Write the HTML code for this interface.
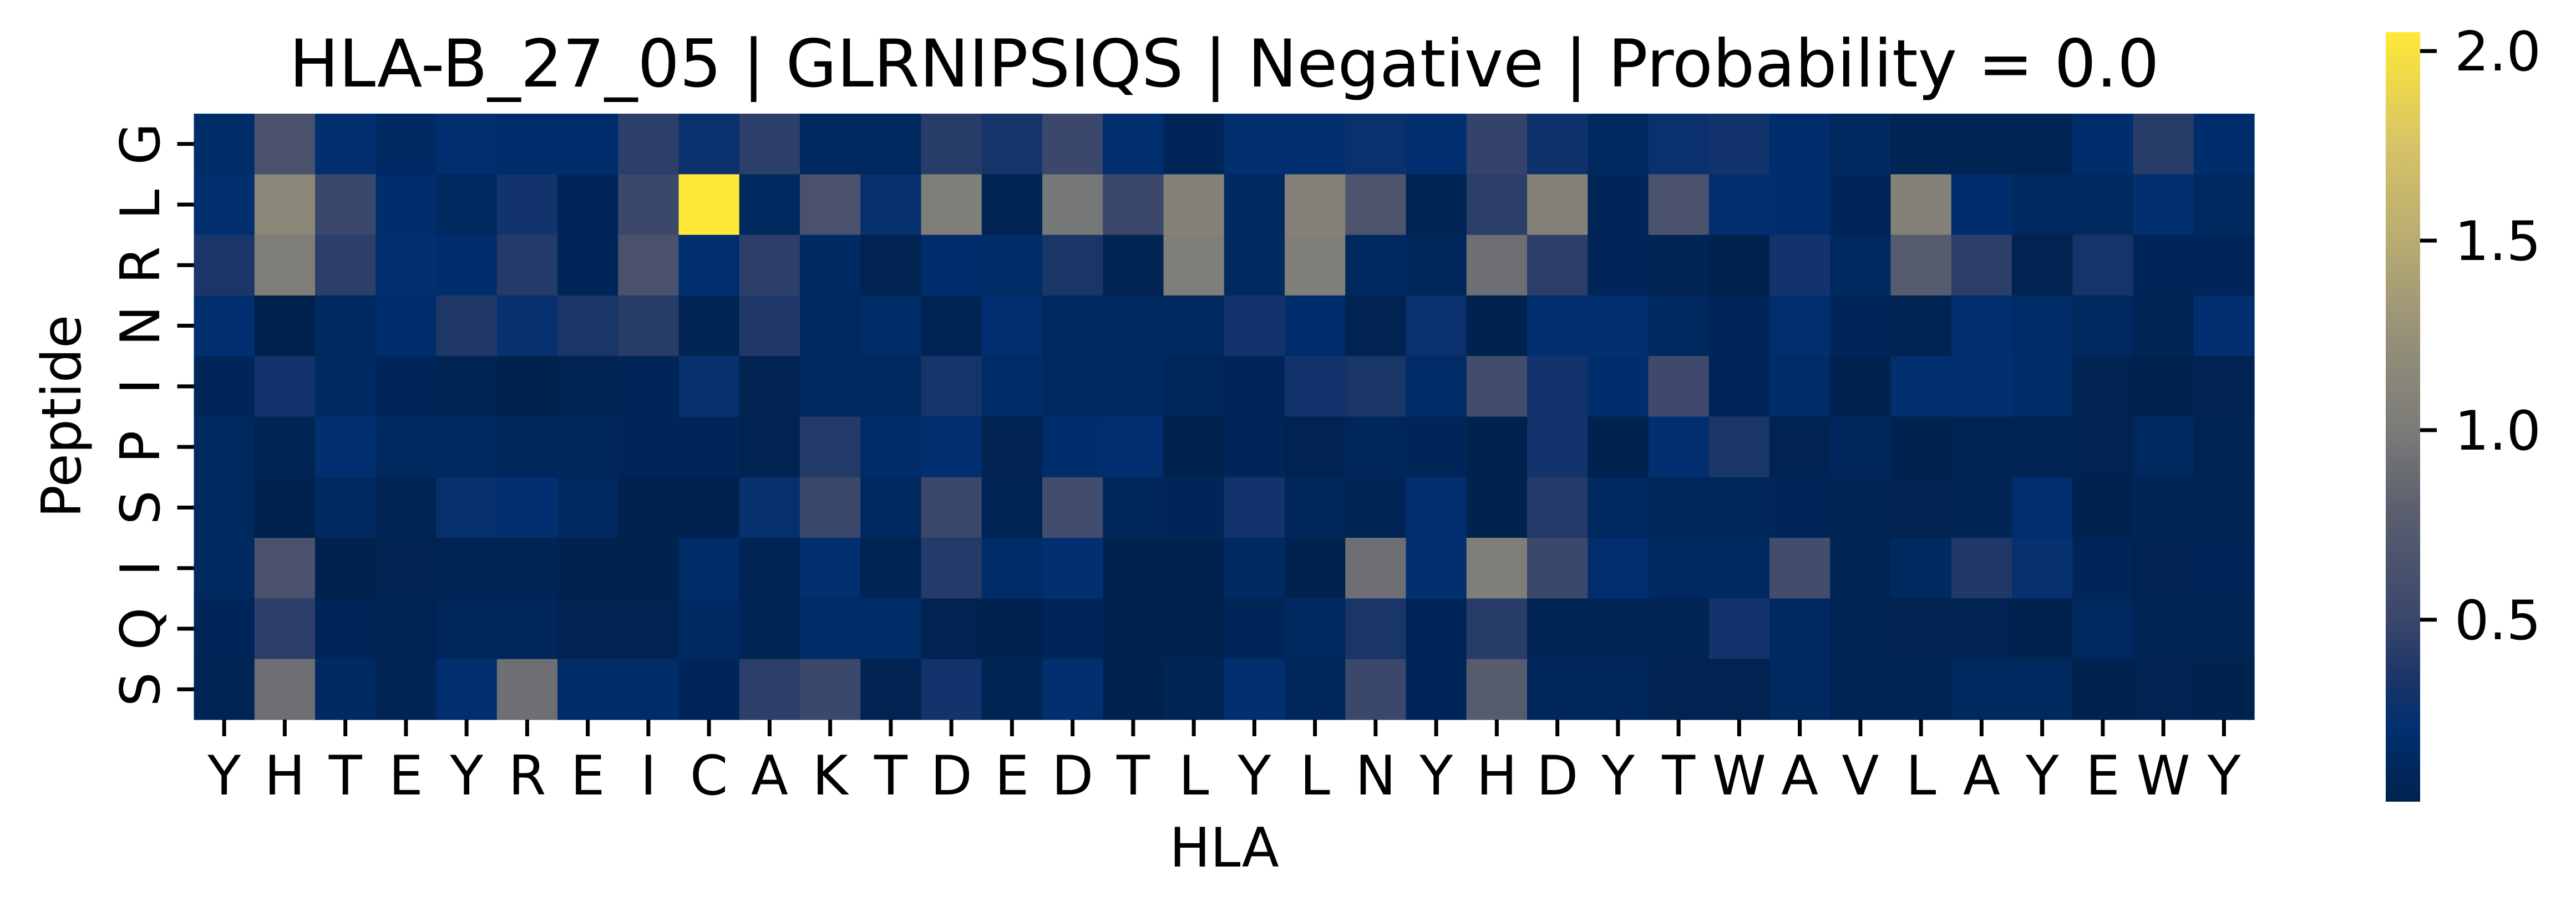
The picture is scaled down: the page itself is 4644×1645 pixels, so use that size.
<!DOCTYPE html>
<html><head><meta charset="utf-8">
<style>
html,body{margin:0;padding:0;background:#fff;}
svg{display:block;}
text{font-family:"DejaVu Sans","Liberation Sans",sans-serif;fill:#000;}
</style></head>
<body>
<svg id="chart" width="4644" height="1645" viewBox="0 0 4644 1645" xmlns="http://www.w3.org/2000/svg">
<defs>
<linearGradient id="cbgrad" x1="0" y1="1" x2="0" y2="0">
<stop offset="0" stop-color="#00224e"/><stop offset="0.094" stop-color="#002f70"/><stop offset="0.16" stop-color="#1b3568"/><stop offset="0.24" stop-color="#3b476b"/><stop offset="0.38" stop-color="#5b5f6e"/><stop offset="0.48" stop-color="#7a7a78"/><stop offset="0.6" stop-color="#958f78"/><stop offset="0.73" stop-color="#b8ac72"/><stop offset="0.85" stop-color="#d6c266"/><stop offset="1" stop-color="#fee838"/>
</linearGradient>
</defs>
<text x="2207" y="156" font-size="119" text-anchor="middle">HLA-B_27_05 | GLRNIPSIQS | Negative | Probability = 0.0</text>
<g id="cells"></g>
<g id="axes"></g>
<rect x="4301" y="58" width="62" height="1388" fill="url(#cbgrad)"/>
<g id="cbticks"></g>
<text x="2207" y="1563" font-size="98" text-anchor="middle">HLA</text>
<text x="145" y="751" font-size="98" text-anchor="middle" transform="rotate(-90 145 751)">Peptide</text>
</svg>
<script>
const hlaLabels = ["Y","H","T","E","Y","R","E","I","C","A","K","T","D","E","D","T","L","Y","L","N","Y","H","D","Y","T","W","A","V","L","A","Y","E","W","Y"];
const peptideLabels = ["G","L","R","N","I","P","S","I","Q","S"];
const values = [
[.16,.63,.22,.14,.20,.18,.18,.43,.26,.43,.12,.12,.41,.32,.51,.20,.08,.22,.22,.26,.22,.47,.28,.12,.26,.30,.18,.12,.06,.06,.06,.18,.41,.18],
[.22,1.14,.51,.18,.12,.30,.08,.51,2.05,.12,.63,.24,1.04,.06,.97,.51,1.08,.12,1.08,.67,.06,.43,1.08,.08,.65,.22,.18,.08,1.08,.18,.12,.12,.22,.12],
[.34,1.04,.43,.22,.18,.39,.08,.63,.20,.43,.14,.04,.18,.16,.34,.06,1.04,.12,1.04,.12,.10,.91,.43,.08,.06,.02,.30,.12,.75,.43,.04,.32,.08,.08],
[.22,.02,.12,.18,.37,.24,.34,.41,.06,.37,.12,.16,.06,.20,.12,.12,.12,.30,.18,.04,.26,.02,.22,.22,.12,.08,.20,.08,.06,.20,.16,.12,.06,.22],
[.08,.30,.14,.08,.06,.02,.06,.08,.24,.04,.12,.12,.32,.16,.12,.12,.10,.08,.30,.34,.16,.57,.30,.18,.53,.08,.16,.02,.22,.22,.16,.04,.02,.04],
[.12,.06,.22,.12,.12,.10,.10,.08,.08,.04,.39,.16,.20,.04,.18,.20,.02,.08,.04,.10,.08,.02,.30,.02,.22,.34,.04,.10,.02,.06,.06,.04,.12,.06],
[.12,.02,.12,.06,.24,.22,.12,.02,.02,.24,.51,.12,.51,.06,.57,.10,.08,.30,.10,.06,.20,.02,.39,.12,.10,.10,.08,.06,.04,.06,.20,.02,.06,.06],
[.12,.63,.02,.04,.06,.06,.02,.02,.16,.06,.22,.06,.39,.16,.22,.02,.02,.14,.02,.91,.22,1.04,.51,.20,.12,.12,.57,.06,.12,.37,.24,.08,.04,.08],
[.08,.43,.08,.06,.10,.10,.04,.04,.14,.06,.16,.16,.04,.02,.08,.02,.02,.08,.12,.34,.08,.41,.06,.06,.06,.30,.12,.06,.04,.04,.02,.12,.06,.06],
[.06,.91,.14,.06,.20,.91,.16,.16,.08,.43,.51,.04,.30,.06,.22,.02,.06,.22,.10,.51,.08,.75,.10,.10,.04,.04,.12,.06,.06,.12,.12,.02,.04,.02]
];
const cbTicks = [0.5,1.0,1.5,2.0];
const cbTickLabels = ["0.5","1.0","1.5","2.0"];
const vmin = 0.02, vmax = 2.05;

const NS = "http://www.w3.org/2000/svg";
const X0 = 349.5, X1 = 4064, Y0 = 205, Y1 = 1298;
const cw = (X1 - X0) / hlaLabels.length, ch = (Y1 - Y0) / peptideLabels.length;
const xScale = i => X0 + i * cw;
const yScale = j => Y0 + j * ch;
const CB_TOP = 58, CB_BOT = 1446;
const cbScale = v => CB_BOT - (v - vmin) / (vmax - vmin) * (CB_BOT - CB_TOP);

const stops = [[0,[0,34,78]],[0.094,[0,47,112]],[0.16,[27,53,104]],[0.24,[59,71,107]],[0.38,[91,95,110]],[0.48,[122,122,120]],[0.6,[149,143,120]],[0.73,[184,172,114]],[0.85,[214,194,102]],[1,[254,232,56]]];
function color(v){
  let t = Math.max(0, Math.min(1, (v - vmin) / (vmax - vmin)));
  for (let k = 1; k < stops.length; k++){
    if (t <= stops[k][0]){
      const a = stops[k-1], b = stops[k];
      const f = (t - a[0]) / (b[0] - a[0]);
      const c = a[1].map((x, i) => Math.round(x + (b[1][i] - x) * f));
      return `rgb(${c[0]},${c[1]},${c[2]})`;
    }
  }
  return "rgb(254,232,56)";
}
function mk(tag, attrs){ const e = document.createElementNS(NS, tag); for (const k in attrs) e.setAttribute(k, attrs[k]); return e; }

const cells = document.getElementById("cells");
values.forEach((row, j) => {
  row.forEach((v, i) => {
    const r = mk("rect", {x: xScale(i), y: yScale(j), width: cw + 0.6, height: ch + 0.6, fill: color(v)});
    
    
    cells.appendChild(r);
  });
});

const axes = document.getElementById("axes");
hlaLabels.forEach((lab, i) => {
  const cx = xScale(i) + cw / 2;
  const t = mk("line", {x1: cx, x2: cx, y1: Y1, y2: Y1 + 30, stroke: "#000", "stroke-width": 7});
  
  
  axes.appendChild(t);
  const tx = mk("text", {x: cx, y: 1433, "font-size": 98, "text-anchor": "middle"});
  tx.textContent = lab;
  
  
  axes.appendChild(tx);
});
peptideLabels.forEach((lab, j) => {
  const cy = yScale(j) + ch / 2;
  const t = mk("line", {x1: X0 - 30, x2: X0, y1: cy, y2: cy, stroke: "#000", "stroke-width": 7});
  
  
  axes.appendChild(t);
  const tx = mk("text", {x: 287, y: cy, "font-size": 98, "text-anchor": "middle", transform: `rotate(-90 287 ${cy})`});
  tx.textContent = lab;
  
  
  axes.appendChild(tx);
});

const cbt = document.getElementById("cbticks");
cbTicks.forEach((v, k) => {
  const y = cbScale(v);
  const t = mk("line", {x1: 4363, x2: 4393, y1: y, y2: y, stroke: "#000", "stroke-width": 7});
  
  
  cbt.appendChild(t);
  const tx = mk("text", {x: 4425, y: y + 35, "font-size": 98});
  tx.textContent = cbTickLabels[k];
  
  
  cbt.appendChild(tx);
});
</script>
</body></html>
